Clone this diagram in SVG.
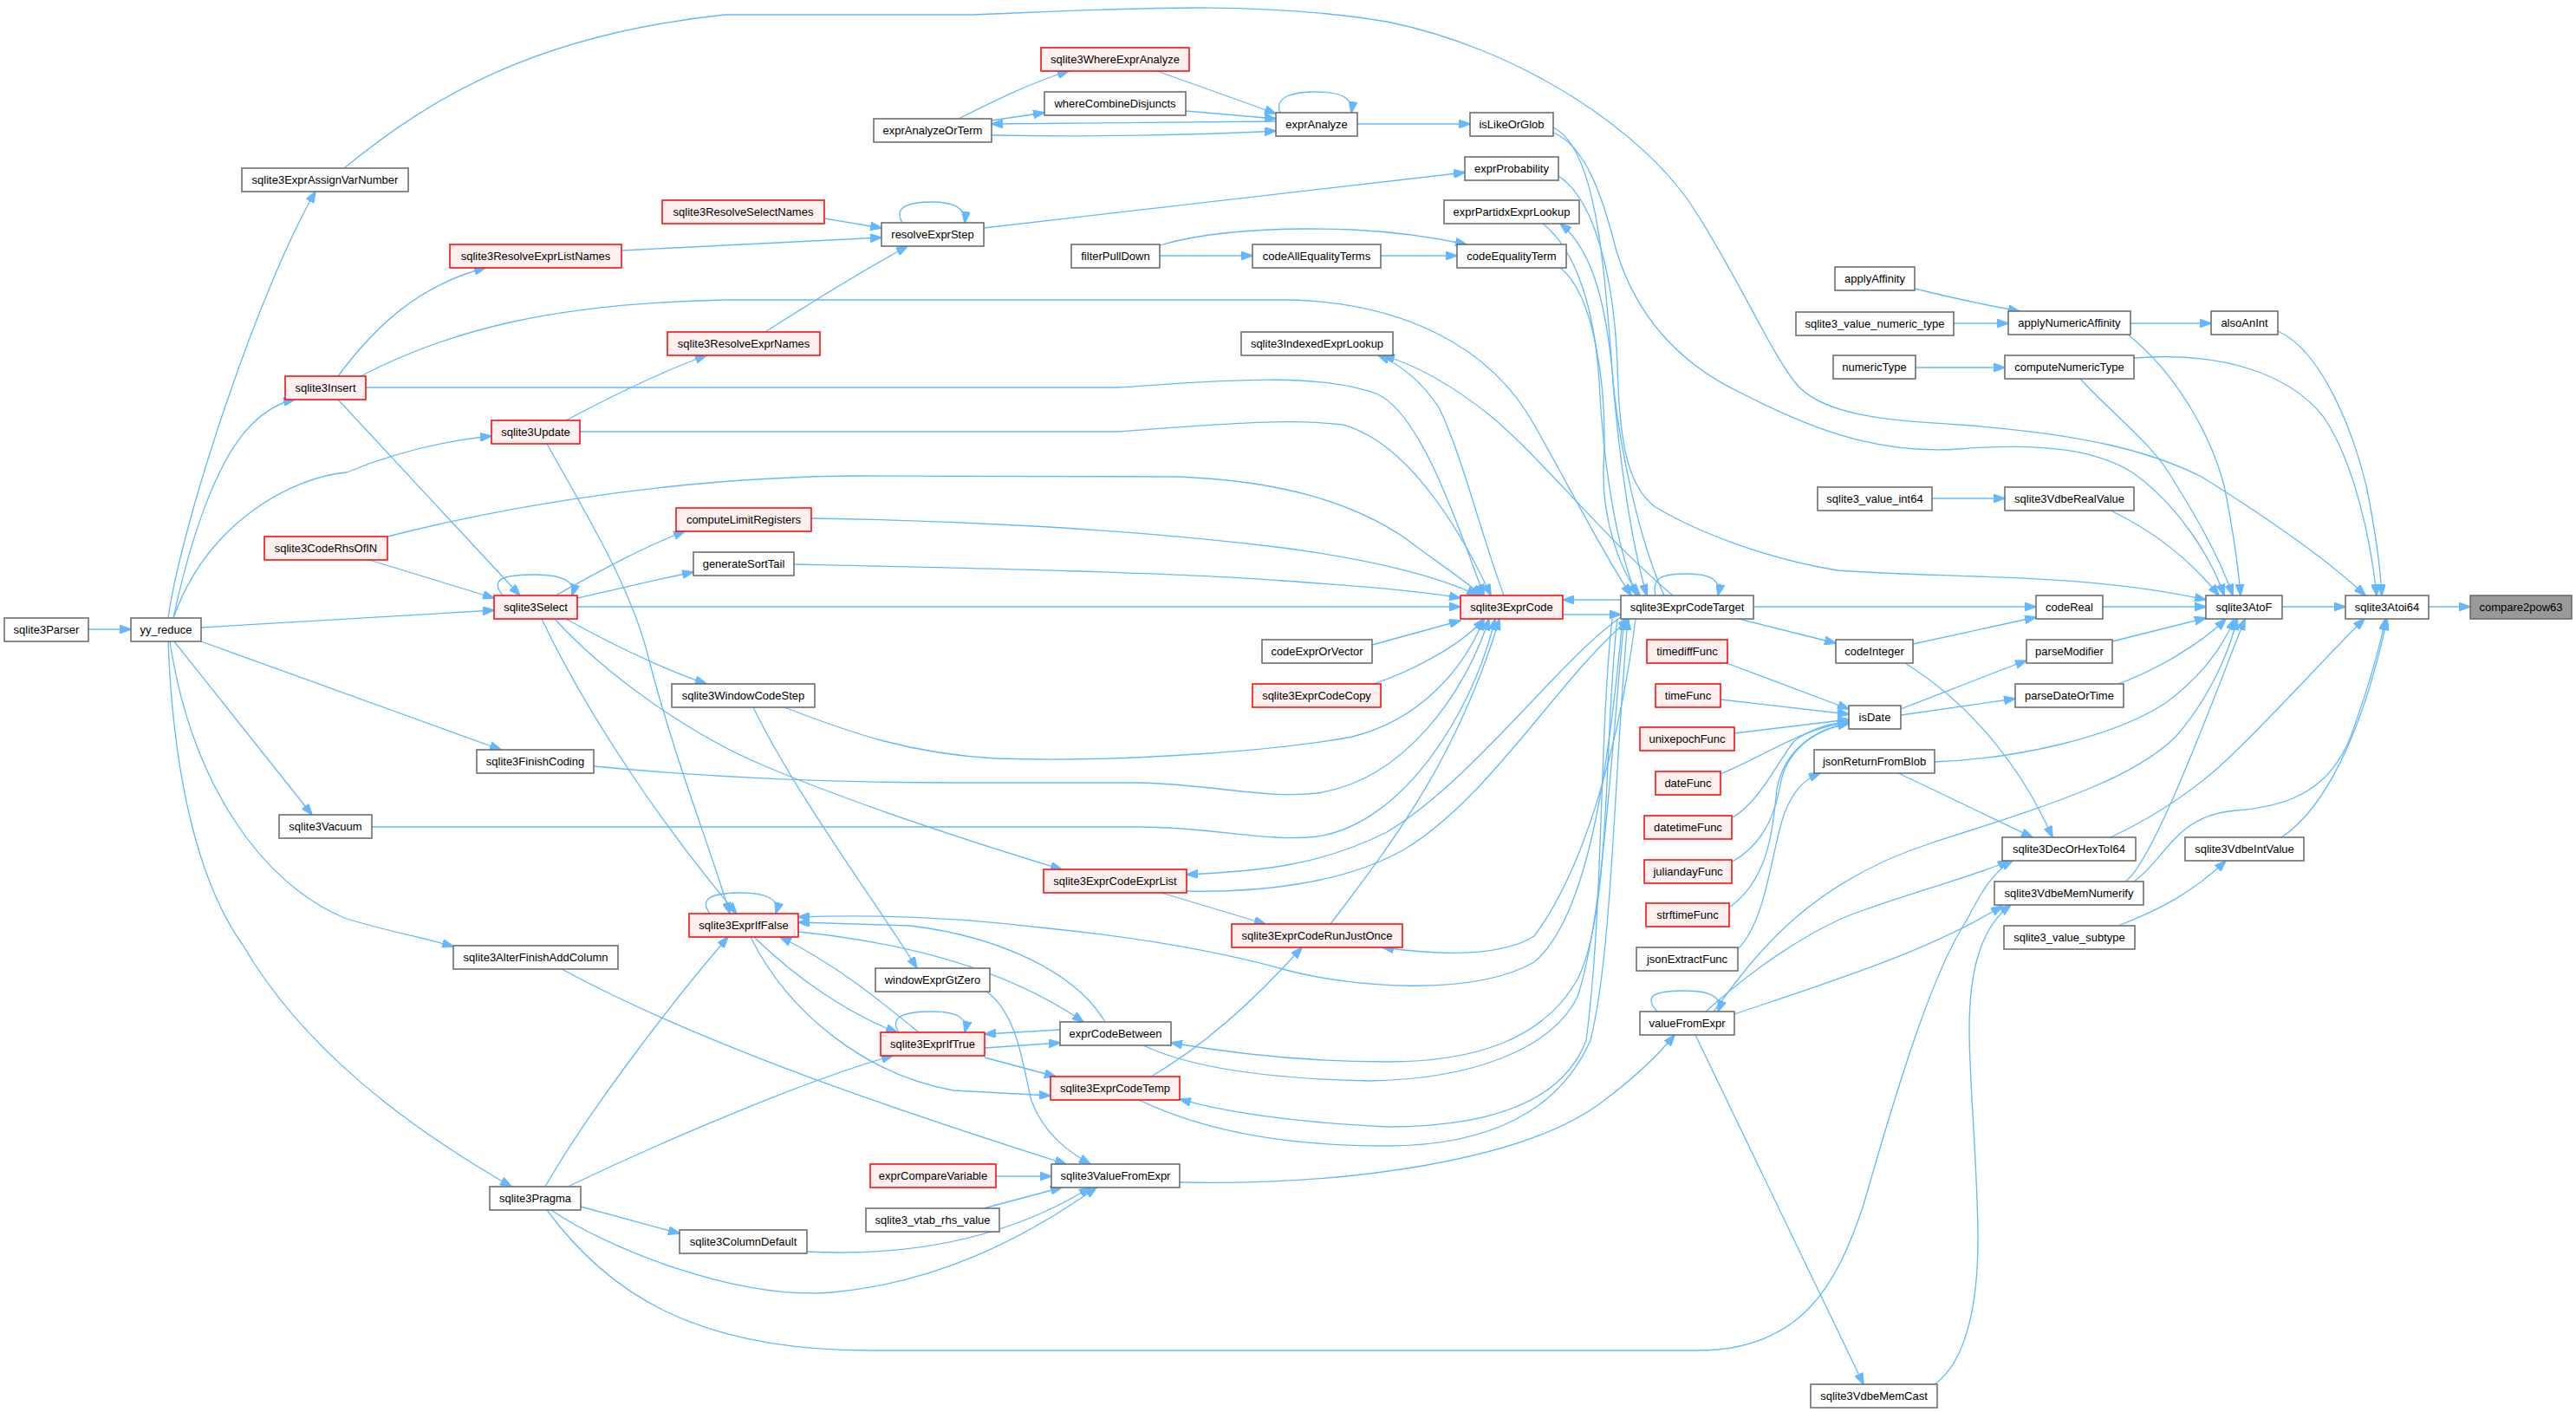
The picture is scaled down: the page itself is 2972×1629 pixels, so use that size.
<svg xmlns="http://www.w3.org/2000/svg" width="2972" height="1629" viewBox="0 0 2972 1629">
<style>
.n rect{fill:#ffffff;stroke:#666666;stroke-width:1.5}
.r rect{fill:#fff0f0;stroke:#ff0000;stroke-width:1.5}
.g rect{fill:#999999;stroke:#666666;stroke-width:1.5}
text{font-family:"Liberation Sans",Arial,sans-serif;font-size:13px;text-anchor:middle;fill:#000}
#edges path{fill:none;stroke:#63b8ff;stroke-width:1.3;marker-end:url(#a)}
</style>
<defs>
<marker id="a" markerUnits="userSpaceOnUse" markerWidth="14" markerHeight="10" refX="13" refY="5" orient="auto" viewBox="0 0 14 10"><path d="M0,0 L14,5 L0,10 z" fill="#63b8ff" stroke="#63b8ff" stroke-width="1"/></marker>
</defs>
<rect x="0" y="0" width="2972" height="1629" fill="#ffffff"/>
<g id="edges">
<path d="M2802,700 L2850,700"/>
<path d="M2633,700 L2706,700"/>
<path d="M2628,382 C2680,405 2715,500 2730,560 C2740,610 2746,650 2748,687"/>
<path d="M2462,413 C2560,405 2640,430 2680,480 C2715,530 2735,620 2742,687"/>
<path d="M2400,437 C2440,480 2480,510 2502,545 C2530,590 2560,640 2576,687"/>
<path d="M2455,386 C2510,430 2550,500 2566,560 C2576,610 2582,650 2585,687"/>
<path d="M2458,373 L2551,373"/>
<path d="M2209,333 C2250,343 2290,352 2330,359"/>
<path d="M2254,373 L2317,373"/>
<path d="M2210,424 L2313,424"/>
<path d="M2229,575 L2313,575"/>
<path d="M2435,589 C2490,615 2530,650 2560,687"/>
<path d="M2426,700 L2545,700"/>
<path d="M2437,740 L2545,713"/>
<path d="M2444,789 C2490,772 2540,742 2568,714"/>
<path d="M2232,879 C2330,875 2440,850 2500,810 C2540,780 2565,745 2578,714"/>
<path d="M1977,1167 C2020,1110 2080,1020 2230,972 C2360,930 2460,900 2510,850 C2545,810 2570,760 2581,714"/>
<path d="M2452,1017 C2485,995 2560,790 2590,714"/>
<path d="M2462,1017 C2500,990 2510,940 2580,935 C2650,930 2690,905 2712,850 C2730,800 2745,750 2752,714"/>
<path d="M2435,966 C2480,945 2520,920 2560,885 C2620,830 2690,750 2728,714"/>
<path d="M2632,966 C2680,935 2725,850 2754,714"/>
<path d="M2444,1068 C2490,1050 2530,1030 2568,993"/>
<path d="M2198,765 C2270,810 2330,880 2368,966"/>
<path d="M2190,892 C2250,920 2300,945 2345,966"/>
<path d="M2006,714 L2118,742"/>
<path d="M2023,700 L2349,700"/>
<path d="M2207,743 L2349,712"/>
<path d="M2193,818 C2240,800 2290,780 2338,762"/>
<path d="M2193,825 L2325,806"/>
<path d="M1992,765 L2133,818"/>
<path d="M1985,807 L2133,824"/>
<path d="M2001,846 L2133,830"/>
<path d="M1985,893 C2040,870 2080,840 2133,833"/>
<path d="M1999,943 C2030,925 2050,880 2070,855 C2090,840 2110,835 2133,833"/>
<path d="M1999,994 C2040,970 2050,930 2055,900 C2065,860 2100,840 2133,834"/>
<path d="M1995,1047 C2040,1015 2045,960 2050,910 C2060,860 2100,840 2133,835"/>
<path d="M2005,1095 C2040,1060 2045,970 2060,935 C2070,912 2080,900 2100,892"/>
<path d="M1956,1194 L2150,1597"/>
<path d="M1912,1167 C1895,1148 1910,1143 1945,1143 C1975,1143 1988,1152 1982,1167"/>
<path d="M2001,1170 C2120,1130 2230,1095 2310,1045"/>
<path d="M1968,1167 C2020,1120 2090,1070 2150,1050 C2220,1025 2280,1010 2318,993"/>
<path d="M631,1396 C700,1490 800,1558 1003,1558 L1958,1558 C2080,1558 2120,1480 2150,1390 C2190,1250 2230,1120 2270,1060 C2285,1030 2300,1005 2322,993"/>
<path d="M2232,1597 C2270,1570 2282,1500 2282,1430 C2282,1350 2272,1250 2272,1188 C2272,1120 2285,1070 2320,1044"/>
<path d="M1803,709 L1870,709"/>
<path d="M1870,692 L1803,692"/>
<path d="M1910,687 C1905,665 1920,662 1946,662 C1975,662 1986,670 1982,687"/>
<path d="M416,434 C520,380 640,350 836,346 L1490,346 C1620,350 1720,400 1770,490 C1810,560 1850,640 1882,687"/>
<path d="M1792,147 C1840,170 1850,300 1858,400 C1864,500 1880,620 1900,687"/>
<path d="M1800,309 C1840,340 1855,450 1850,540 C1848,600 1870,660 1892,687"/>
<path d="M1920,687 C1890,620 1870,520 1862,450 C1855,360 1840,290 1800,258"/>
<path d="M1780,258 C1820,290 1840,360 1845,440 C1850,540 1865,630 1888,687"/>
<path d="M1798,203 C1840,230 1862,320 1866,420 C1868,500 1875,560 1910,585 C1960,615 2040,645 2120,658 C2250,668 2400,660 2545,692"/>
<path d="M1792,153 C1830,168 1850,230 1865,290 C1890,370 1940,420 2006,452 C2080,490 2160,525 2260,518 C2360,510 2420,520 2460,545 C2510,580 2550,640 2566,687"/>
<path d="M397,194 C500,110 620,40 836,17 L1123,17 C1300,10 1450,0 1600,25 C1750,55 1900,150 1960,250 C2010,330 2040,400 2070,440 C2100,480 2180,485 2260,490 C2400,500 2480,520 2540,550 C2620,600 2690,650 2729,687"/>
<path d="M1735,687 C1710,620 1685,520 1660,470 C1640,440 1615,420 1590,410"/>
<path d="M1930,687 C1850,620 1780,530 1720,480 C1670,440 1630,420 1596,410"/>
<path d="M422,447 L1290,447 C1400,440 1520,428 1590,455 C1640,480 1680,600 1712,687"/>
<path d="M669,498 L1290,498 C1400,490 1480,482 1550,490 C1620,510 1680,600 1720,687"/>
<path d="M653,485 C700,460 760,430 815,410"/>
<path d="M631,512 C680,600 730,680 750,766 C780,880 820,980 842,1054"/>
<path d="M625,714 C680,830 770,960 850,1054"/>
<path d="M640,714 C700,780 800,850 883,884 C980,925 1100,965 1225,1003"/>
<path d="M653,714 C700,740 760,770 815,789"/>
<path d="M641,687 C690,660 740,632 790,613"/>
<path d="M666,690 C720,678 760,668 800,660"/>
<path d="M666,700 L1685,700"/>
<path d="M580,687 C565,668 580,663 617,663 C650,663 665,672 660,687"/>
<path d="M426,646 L570,690"/>
<path d="M447,619 C600,580 800,549 1000,549 L1360,550 C1480,555 1560,580 1620,620 C1660,650 1690,670 1710,687"/>
<path d="M936,598 C1100,600 1300,610 1480,632 C1580,645 1660,665 1705,687"/>
<path d="M916,651 C1100,655 1350,660 1480,670 C1580,677 1640,682 1685,690"/>
<path d="M905,816 C980,845 1050,870 1150,875 C1300,880 1480,865 1560,850 C1640,830 1690,770 1712,714"/>
<path d="M685,884 C800,895 950,903 1100,903 L1314,903 C1400,905 1460,922 1520,915 C1620,900 1690,800 1718,714"/>
<path d="M429,954 L1314,954 C1400,954 1460,972 1520,965 C1620,950 1700,820 1725,714"/>
<path d="M1583,744 L1685,716"/>
<path d="M1585,789 C1640,770 1690,740 1712,714"/>
<path d="M1535,1066 C1600,980 1680,880 1730,714"/>
<path d="M1870,712 C1800,760 1700,900 1600,960 C1520,1000 1450,1005 1369,1009"/>
<path d="M1369,1028 C1450,1030 1550,1020 1620,980 C1720,920 1800,780 1880,714"/>
<path d="M1340,1030 L1460,1066"/>
<path d="M1887,714 C1870,850 1830,1000 1770,1080 C1730,1105 1660,1102 1595,1093"/>
<path d="M1328,1242 C1400,1200 1460,1140 1502,1093"/>
<path d="M1860,714 C1845,850 1850,1050 1830,1200 C1800,1280 1700,1300 1600,1300 C1500,1295 1420,1285 1361,1268"/>
<path d="M1314,1269 C1400,1310 1500,1322 1600,1322 C1720,1322 1800,1280 1835,1200 C1860,1100 1862,900 1878,714"/>
<path d="M1866,714 C1850,850 1860,1050 1820,1130 C1780,1200 1700,1225 1600,1225 C1500,1225 1420,1215 1351,1203"/>
<path d="M1319,1206 C1380,1235 1480,1245 1580,1247 C1700,1245 1790,1210 1820,1150 C1850,1060 1860,850 1874,714"/>
<path d="M1872,714 C1855,900 1830,1060 1770,1110 C1700,1150 1560,1140 1480,1118 C1400,1096 1300,1080 1200,1070 C1100,1058 1000,1055 921,1058"/>
<path d="M1275,1179 C1240,1120 1150,1080 1050,1068 L921,1064"/>
<path d="M921,1075 C1020,1085 1150,1110 1250,1179"/>
<path d="M819,1054 C805,1035 825,1030 855,1030 C885,1030 900,1038 895,1054"/>
<path d="M870,1081 C920,1130 980,1170 1035,1191"/>
<path d="M1060,1191 C1010,1150 960,1110 900,1081"/>
<path d="M866,1081 C910,1170 1000,1240 1100,1258 L1212,1264"/>
<path d="M1037,1191 C1025,1172 1045,1167 1075,1167 C1105,1167 1117,1175 1113,1191"/>
<path d="M1136,1209 L1223,1203"/>
<path d="M1223,1188 L1136,1193"/>
<path d="M1136,1220 L1218,1242"/>
<path d="M655,1369 C800,1300 950,1240 1030,1218"/>
<path d="M629,1369 C680,1280 780,1150 840,1081"/>
<path d="M670,1392 L784,1423"/>
<path d="M636,1396 C700,1440 850,1500 960,1491 C1080,1480 1180,1430 1265,1370"/>
<path d="M931,1444 C1050,1450 1160,1430 1258,1370"/>
<path d="M1149,1357 L1213,1357"/>
<path d="M1135,1394 L1225,1370"/>
<path d="M1137,1143 C1175,1170 1180,1230 1190,1270 C1205,1310 1235,1330 1258,1343"/>
<path d="M648,1118 C800,1200 1000,1270 1230,1343"/>
<path d="M1361,1364 C1550,1368 1760,1340 1850,1270 C1890,1240 1915,1215 1932,1194"/>
<path d="M869,816 C920,920 1010,1040 1058,1117"/>
<path d="M951,252 L1017,263"/>
<path d="M717,289 L1017,274"/>
<path d="M883,383 C950,340 1000,310 1047,284"/>
<path d="M1041,257 C1030,238 1050,233 1075,233 C1100,233 1115,240 1113,257"/>
<path d="M1135,263 L1690,199"/>
<path d="M1106,137 C1150,115 1190,95 1233,82"/>
<path d="M1335,82 L1472,131"/>
<path d="M1368,128 L1472,137"/>
<path d="M1144,139 L1205,130"/>
<path d="M1472,140 L1144,143"/>
<path d="M1144,156 C1250,158 1380,156 1472,151"/>
<path d="M1566,143 L1696,143"/>
<path d="M1477,130 C1470,112 1490,106 1518,106 C1545,106 1562,112 1559,130"/>
<path d="M1338,295 L1445,295"/>
<path d="M1338,283 C1400,265 1480,262 1560,265 C1620,268 1660,275 1692,282"/>
<path d="M1593,295 L1681,295"/>
<path d="M102,726 L151,726"/>
<path d="M194,713 C210,600 300,330 364,221"/>
<path d="M200,713 C220,620 250,530 290,490 C305,475 320,465 340,461"/>
<path d="M200,713 C240,600 340,550 400,545 C460,520 520,508 567,503"/>
<path d="M232,724 L570,704"/>
<path d="M232,740 L578,865"/>
<path d="M201,740 L360,940"/>
<path d="M196,740 C220,900 300,1020 400,1060 C450,1075 490,1082 523,1092"/>
<path d="M194,740 C200,900 230,1020 280,1090 C350,1210 470,1300 590,1369"/>
<path d="M390,434 C430,380 480,330 560,309"/>
<path d="M390,461 L600,687"/>
</g>
<g id="n_compare2pow63" class="g"><rect x="2850" y="687" width="117" height="27"/><text x="2908.5" y="705">compare2pow63</text></g>
<g id="n_sqlite3Atoi64" class="n"><rect x="2706" y="687" width="96" height="27"/><text x="2754" y="705">sqlite3Atoi64</text></g>
<g id="n_sqlite3AtoF" class="n"><rect x="2545" y="687" width="88" height="27"/><text x="2589" y="705">sqlite3AtoF</text></g>
<g id="n_alsoAnInt" class="n"><rect x="2551" y="359" width="77" height="27"/><text x="2589.5" y="377">alsoAnInt</text></g>
<g id="n_applyNumericAffinity" class="n"><rect x="2317" y="359" width="141" height="27"/><text x="2387.5" y="377">applyNumericAffinity</text></g>
<g id="n_computeNumericType" class="n"><rect x="2313" y="410" width="149" height="27"/><text x="2387.5" y="428">computeNumericType</text></g>
<g id="n_sqlite3VdbeRealValue" class="n"><rect x="2313" y="562" width="149" height="27"/><text x="2387.5" y="580">sqlite3VdbeRealValue</text></g>
<g id="n_codeReal" class="n"><rect x="2349" y="687" width="77" height="27"/><text x="2387.5" y="705">codeReal</text></g>
<g id="n_parseModifier" class="n"><rect x="2338" y="738" width="99" height="27"/><text x="2387.5" y="756">parseModifier</text></g>
<g id="n_parseDateOrTime" class="n"><rect x="2325" y="789" width="125" height="27"/><text x="2387.5" y="807">parseDateOrTime</text></g>
<g id="n_sqlite3DecOrHexToI64" class="n"><rect x="2310" y="966" width="154" height="27"/><text x="2387" y="984">sqlite3DecOrHexToI64</text></g>
<g id="n_sqlite3VdbeIntValue" class="n"><rect x="2521" y="966" width="137" height="27"/><text x="2589.5" y="984">sqlite3VdbeIntValue</text></g>
<g id="n_sqlite3VdbeMemNumerify" class="n"><rect x="2301" y="1017" width="172" height="27"/><text x="2387" y="1035">sqlite3VdbeMemNumerify</text></g>
<g id="n_sqlite3_value_subtype" class="n"><rect x="2312" y="1068" width="151" height="27"/><text x="2387.5" y="1086">sqlite3_value_subtype</text></g>
<g id="n_applyAffinity" class="n"><rect x="2117" y="308" width="92" height="27"/><text x="2163" y="326">applyAffinity</text></g>
<g id="n_sqlite3_value_numeric_type" class="n"><rect x="2072" y="360" width="182" height="27"/><text x="2163" y="378">sqlite3_value_numeric_type</text></g>
<g id="n_numericType" class="n"><rect x="2115" y="410" width="95" height="27"/><text x="2162.5" y="428">numericType</text></g>
<g id="n_sqlite3_value_int64" class="n"><rect x="2097" y="562" width="132" height="27"/><text x="2163" y="580">sqlite3_value_int64</text></g>
<g id="n_codeInteger" class="n"><rect x="2118" y="738" width="89" height="27"/><text x="2162.5" y="756">codeInteger</text></g>
<g id="n_isDate" class="n"><rect x="2133" y="814" width="60" height="27"/><text x="2163" y="832">isDate</text></g>
<g id="n_jsonReturnFromBlob" class="n"><rect x="2093" y="865" width="139" height="27"/><text x="2162.5" y="883">jsonReturnFromBlob</text></g>
<g id="n_sqlite3ExprCodeTarget" class="n"><rect x="1870" y="687" width="153" height="27"/><text x="1946.5" y="705">sqlite3ExprCodeTarget</text></g>
<g id="n_timediffFunc" class="r"><rect x="1900" y="738" width="93" height="27"/><text x="1946.5" y="756">timediffFunc</text></g>
<g id="n_timeFunc" class="r"><rect x="1910" y="789" width="75" height="27"/><text x="1947.5" y="807">timeFunc</text></g>
<g id="n_unixepochFunc" class="r"><rect x="1892" y="839" width="109" height="27"/><text x="1946.5" y="857">unixepochFunc</text></g>
<g id="n_dateFunc" class="r"><rect x="1910" y="890" width="75" height="27"/><text x="1947.5" y="908">dateFunc</text></g>
<g id="n_datetimeFunc" class="r"><rect x="1897" y="941" width="101" height="27"/><text x="1947.5" y="959">datetimeFunc</text></g>
<g id="n_juliandayFunc" class="r"><rect x="1897" y="992" width="101" height="27"/><text x="1947.5" y="1010">juliandayFunc</text></g>
<g id="n_strftimeFunc" class="r"><rect x="1899" y="1042" width="96" height="27"/><text x="1947" y="1060">strftimeFunc</text></g>
<g id="n_jsonExtractFunc" class="n"><rect x="1888" y="1093" width="117" height="27"/><text x="1946.5" y="1111">jsonExtractFunc</text></g>
<g id="n_valueFromExpr" class="n"><rect x="1892" y="1167" width="109" height="27"/><text x="1946.5" y="1185">valueFromExpr</text></g>
<g id="n_sqlite3VdbeMemCast" class="n"><rect x="2089" y="1597" width="146" height="27"/><text x="2162" y="1615">sqlite3VdbeMemCast</text></g>
<g id="n_sqlite3ExprCode" class="r"><rect x="1685" y="687" width="118" height="27"/><text x="1744" y="705">sqlite3ExprCode</text></g>
<g id="n_isLikeOrGlob" class="n"><rect x="1696" y="130" width="96" height="27"/><text x="1744" y="148">isLikeOrGlob</text></g>
<g id="n_exprProbability" class="n"><rect x="1690" y="181" width="108" height="27"/><text x="1744" y="199">exprProbability</text></g>
<g id="n_exprPartidxExprLookup" class="n"><rect x="1666" y="231" width="156" height="27"/><text x="1744" y="249">exprPartidxExprLookup</text></g>
<g id="n_codeEqualityTerm" class="n"><rect x="1681" y="282" width="126" height="27"/><text x="1744" y="300">codeEqualityTerm</text></g>
<g id="n_sqlite3IndexedExprLookup" class="n"><rect x="1432" y="383" width="175" height="27"/><text x="1519.5" y="401">sqlite3IndexedExprLookup</text></g>
<g id="n_codeAllEqualityTerms" class="n"><rect x="1445" y="282" width="148" height="27"/><text x="1519" y="300">codeAllEqualityTerms</text></g>
<g id="n_codeExprOrVector" class="n"><rect x="1456" y="738" width="127" height="27"/><text x="1519.5" y="756">codeExprOrVector</text></g>
<g id="n_sqlite3ExprCodeCopy" class="r"><rect x="1445" y="789" width="148" height="27"/><text x="1519" y="807">sqlite3ExprCodeCopy</text></g>
<g id="n_sqlite3ExprCodeRunJustOnce" class="r"><rect x="1421" y="1066" width="197" height="27"/><text x="1519.5" y="1084">sqlite3ExprCodeRunJustOnce</text></g>
<g id="n_exprAnalyze" class="n"><rect x="1472" y="130" width="94" height="27"/><text x="1519" y="148">exprAnalyze</text></g>
<g id="n_sqlite3WhereExprAnalyze" class="r"><rect x="1201" y="55" width="171" height="27"/><text x="1286.5" y="73">sqlite3WhereExprAnalyze</text></g>
<g id="n_whereCombineDisjuncts" class="n"><rect x="1205" y="106" width="163" height="27"/><text x="1286.5" y="124">whereCombineDisjuncts</text></g>
<g id="n_exprAnalyzeOrTerm" class="n"><rect x="1008" y="137" width="136" height="27"/><text x="1076" y="155">exprAnalyzeOrTerm</text></g>
<g id="n_filterPullDown" class="n"><rect x="1236" y="282" width="102" height="27"/><text x="1287" y="300">filterPullDown</text></g>
<g id="n_resolveExprStep" class="n"><rect x="1017" y="257" width="118" height="27"/><text x="1076" y="275">resolveExprStep</text></g>
<g id="n_sqlite3ResolveSelectNames" class="r"><rect x="764" y="231" width="187" height="27"/><text x="857.5" y="249">sqlite3ResolveSelectNames</text></g>
<g id="n_sqlite3ResolveExprNames" class="r"><rect x="770" y="383" width="176" height="27"/><text x="858" y="401">sqlite3ResolveExprNames</text></g>
<g id="n_sqlite3ExprCodeExprList" class="r"><rect x="1204" y="1003" width="165" height="27"/><text x="1286.5" y="1021">sqlite3ExprCodeExprList</text></g>
<g id="n_exprCodeBetween" class="n"><rect x="1223" y="1179" width="128" height="27"/><text x="1287" y="1197">exprCodeBetween</text></g>
<g id="n_sqlite3ExprCodeTemp" class="r"><rect x="1212" y="1242" width="149" height="27"/><text x="1286.5" y="1260">sqlite3ExprCodeTemp</text></g>
<g id="n_sqlite3ValueFromExpr" class="n"><rect x="1213" y="1343" width="148" height="27"/><text x="1287" y="1361">sqlite3ValueFromExpr</text></g>
<g id="n_windowExprGtZero" class="n"><rect x="1010" y="1117" width="132" height="27"/><text x="1076" y="1135">windowExprGtZero</text></g>
<g id="n_sqlite3ExprIfTrue" class="r"><rect x="1016" y="1191" width="120" height="27"/><text x="1076" y="1209">sqlite3ExprIfTrue</text></g>
<g id="n_exprCompareVariable" class="r"><rect x="1004" y="1343" width="145" height="27"/><text x="1076.5" y="1361">exprCompareVariable</text></g>
<g id="n_sqlite3_vtab_rhs_value" class="n"><rect x="999" y="1394" width="154" height="27"/><text x="1076" y="1412">sqlite3_vtab_rhs_value</text></g>
<g id="n_sqlite3ColumnDefault" class="n"><rect x="784" y="1419" width="147" height="27"/><text x="857.5" y="1437">sqlite3ColumnDefault</text></g>
<g id="n_sqlite3ExprIfFalse" class="r"><rect x="795" y="1054" width="126" height="27"/><text x="858" y="1072">sqlite3ExprIfFalse</text></g>
<g id="n_computeLimitRegisters" class="r"><rect x="780" y="586" width="156" height="27"/><text x="858" y="604">computeLimitRegisters</text></g>
<g id="n_generateSortTail" class="n"><rect x="800" y="637" width="116" height="27"/><text x="858" y="655">generateSortTail</text></g>
<g id="n_sqlite3WindowCodeStep" class="n"><rect x="775" y="789" width="165" height="27"/><text x="857.5" y="807">sqlite3WindowCodeStep</text></g>
<g id="n_sqlite3ExprAssignVarNumber" class="n"><rect x="279" y="194" width="192" height="27"/><text x="375" y="212">sqlite3ExprAssignVarNumber</text></g>
<g id="n_sqlite3ResolveExprListNames" class="r"><rect x="519" y="282" width="198" height="27"/><text x="618" y="300">sqlite3ResolveExprListNames</text></g>
<g id="n_sqlite3Insert" class="r"><rect x="329" y="434" width="93" height="27"/><text x="375.5" y="452">sqlite3Insert</text></g>
<g id="n_sqlite3Update" class="r"><rect x="567" y="485" width="102" height="27"/><text x="618" y="503">sqlite3Update</text></g>
<g id="n_sqlite3CodeRhsOfIN" class="r"><rect x="305" y="619" width="142" height="27"/><text x="376" y="637">sqlite3CodeRhsOfIN</text></g>
<g id="n_sqlite3Select" class="r"><rect x="570" y="687" width="96" height="27"/><text x="618" y="705">sqlite3Select</text></g>
<g id="n_sqlite3Parser" class="n"><rect x="5" y="713" width="97" height="27"/><text x="53.5" y="731">sqlite3Parser</text></g>
<g id="n_yy_reduce" class="n"><rect x="151" y="713" width="81" height="27"/><text x="191.5" y="731">yy_reduce</text></g>
<g id="n_sqlite3FinishCoding" class="n"><rect x="550" y="865" width="135" height="27"/><text x="617.5" y="883">sqlite3FinishCoding</text></g>
<g id="n_sqlite3Vacuum" class="n"><rect x="322" y="940" width="107" height="27"/><text x="375.5" y="958">sqlite3Vacuum</text></g>
<g id="n_sqlite3AlterFinishAddColumn" class="n"><rect x="523" y="1091" width="190" height="27"/><text x="618" y="1109">sqlite3AlterFinishAddColumn</text></g>
<g id="n_sqlite3Pragma" class="n"><rect x="565" y="1369" width="105" height="27"/><text x="617.5" y="1387">sqlite3Pragma</text></g>
</svg>
